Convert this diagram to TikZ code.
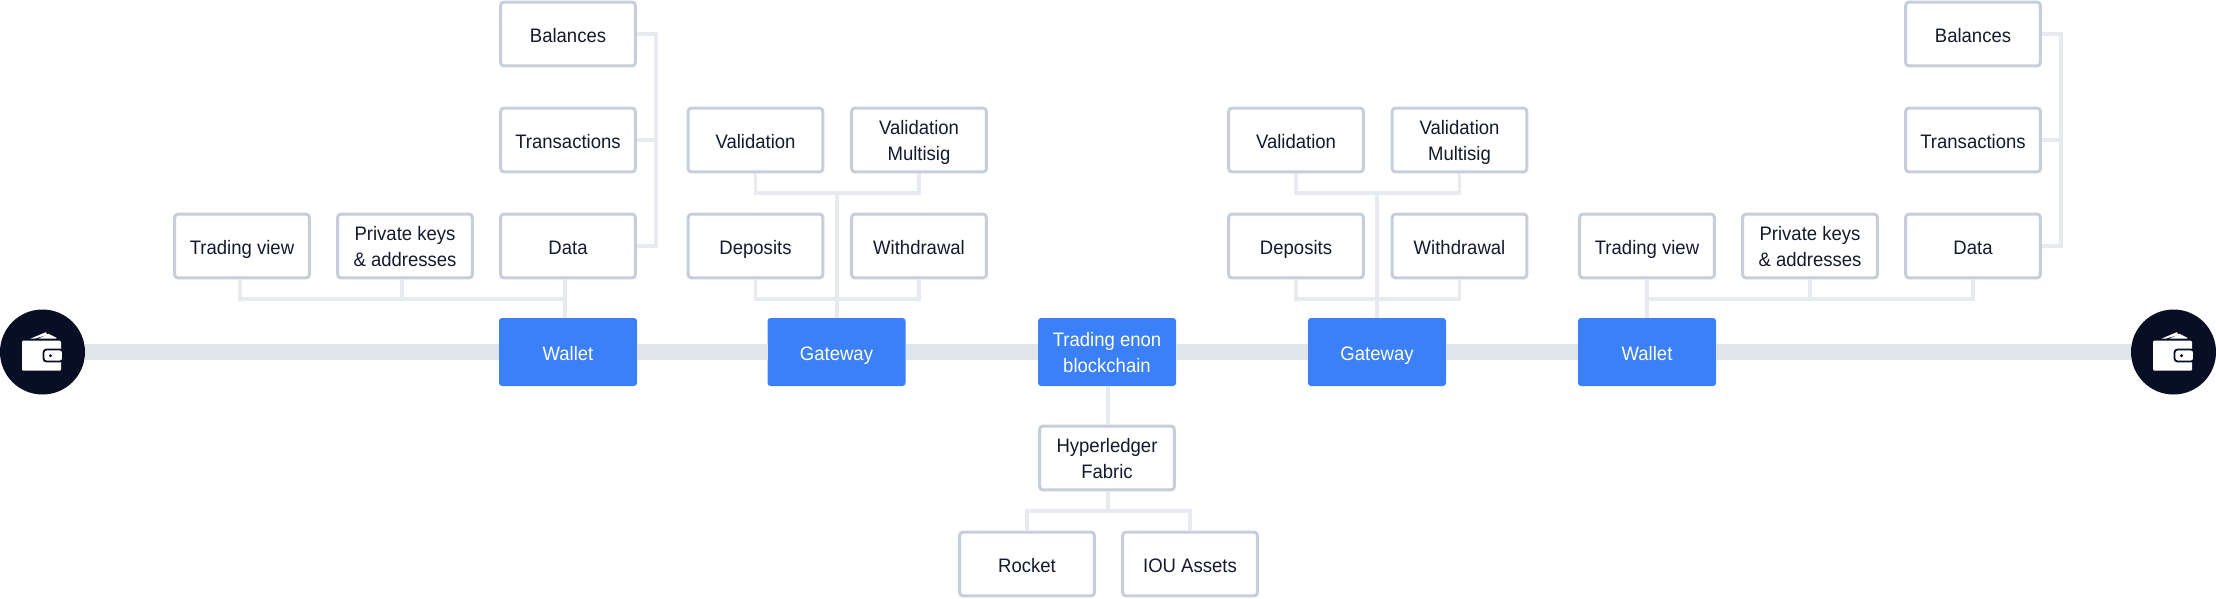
\documentclass[tikz,border=0pt]{standalone}
\usepackage{fontspec}
\setmainfont[FakeStretch=0.95]{Liberation Sans}
\definecolor{boxline}{HTML}{C4CFDA}
\definecolor{linkc}{HTML}{E7EBF0}
\definecolor{railc}{HTML}{E0E5E9}
\definecolor{bluec}{HTML}{3B80F7}
\definecolor{darkc}{HTML}{080E24}
\definecolor{inkc}{HTML}{131A2E}
\tikzset{
  x=1pt,y=-1pt,
  txt/.style={font=\fontsize{19.5}{26}\selectfont,inner sep=0pt,align=center,text height=17pt,text depth=0pt},
  two/.style={text height=40pt,text depth=0pt},
  boxn/.style={txt,draw=boxline,line width=3pt,fill=white,text=inkc,minimum width=134.6pt,minimum height=63.6pt,rounded corners=3pt},
  bluen/.style={txt,fill=bluec,text=white,minimum width=138pt,minimum height=68pt,rounded corners=3pt,outer sep=0pt},
  rail/.style={draw=railc,line width=16pt},
  link/.style={draw=linkc,line width=3.6pt},
  coin/.style={circle,fill=darkc,minimum size=85pt,inner sep=0pt,outer sep=0pt},
}
\newcommand{\walleticon}[1]{%
  \begin{scope}[shift={(#1)}]
    \fill[white,rounded corners=1.2pt] (-20.5,-11.3) rectangle (18.5,18.7);
    \fill[white] (-12.2,-13.3) -- (3.3,-19.8) -- (5,-17.2) -- (-8,-13.3) -- cycle;
    \fill[white] (-4,-13.3) -- (6,-18.2) -- (14.3,-14) -- (13,-13.3) -- cycle;
    \draw[darkc,fill=white,line width=1.8pt,rounded corners=3pt] (1,-2.5) rectangle (20.5,9.5);
    \fill[darkc] (8,3.7) circle (1.7);
  \end{scope}}
\begin{document}
\begin{tikzpicture}
\useasboundingbox (0,0) rectangle (2216,598);
% end points
\node[coin] (cL) at (42.5,352) {};
\node[coin] (cR) at (2173.5,352) {};
% main row
\node[bluen] (wL) at (568,352) {Wallet};
\node[bluen] (gL) at (836.5,352) {Gateway};
\node[bluen,two] (te) at (1107,352) {Trading enon\\blockchain};
\node[bluen] (gR) at (1377,352) {Gateway};
\node[bluen] (wR) at (1647,352) {Wallet};
% left wallet
\node[boxn] (tvL) at (242,246) {Trading view};
\node[boxn,two] (pkL) at (405,246) {Private keys\\\& addresses};
\node[boxn] (daL) at (568,246) {Data};
\node[boxn] (trL) at (568,140) {Transactions};
\node[boxn] (baL) at (568,34) {Balances};
% left gateway
\node[boxn] (vaL) at (755.5,140) {Validation};
\node[boxn,two] (vmL) at (919,140) {Validation\\Multisig};
\node[boxn] (deL) at (755.5,246) {Deposits};
\node[boxn] (wdL) at (919,246) {Withdrawal};
% right gateway
\node[boxn] (vaR) at (1296,140) {Validation};
\node[boxn,two] (vmR) at (1459.5,140) {Validation\\Multisig};
\node[boxn] (deR) at (1296,246) {Deposits};
\node[boxn] (wdR) at (1459.5,246) {Withdrawal};
% right wallet
\node[boxn] (tvR) at (1647,246) {Trading view};
\node[boxn,two] (pkR) at (1810,246) {Private keys\\\& addresses};
\node[boxn] (daR) at (1973,246) {Data};
\node[boxn] (trR) at (1973,140) {Transactions};
\node[boxn] (baR) at (1973,34) {Balances};
% centre
\node[boxn,two] (hy) at (1107,458) {Hyperledger\\Fabric};
\node[boxn] (ro) at (1027,564) {Rocket};
\node[boxn] (io) at (1190,564) {IOU Assets};
% helper points
\coordinate (busW) at (0,299);
\coordinate (sideL) at (656,0);
\coordinate (sideR) at (2061,0);
\coordinate (dropTv) at (240,0);
\coordinate (dropPk) at (402,0);
\coordinate (trunkWL) at (565,0);
\coordinate (trunkGL) at (837,0);
\coordinate (busGu) at (0,193);
\coordinate (busC) at (0,511);
\coordinate (trunkC) at (1108,0);
% rail
\path[rail] (cL) -- (wL) (wL) -- (gL) (gL) -- (te) (te) -- (gR) (gR) -- (wR) (wR) -- (cR);
\walleticon{cL}
\walleticon{cR}
% left wallet links
\path[link] (dropTv |- tvL.south) -- (dropTv |- busW) -- (trunkWL |- busW);
\path[link] (dropPk |- pkL.south) -- (dropPk |- busW);
\path[link] (trunkWL |- daL.south) -- (trunkWL |- wL.north);
\path[link] (baL.east) -- (sideL |- baL.east) -- (sideL |- daL.east) -- (daL.east);
\path[link] (trL.east) -- (sideL |- trL.east);
% left gateway links
\path[link] (vaL.south) -- (vaL.south |- busGu) -- (vmL.south |- busGu) -- (vmL.south);
\path[link] (deL.south) -- (deL.south |- busW) -- (wdL.south |- busW) -- (wdL.south);
\path[link] (trunkGL |- busGu) -- (trunkGL |- gL.north);
% right gateway links
\path[link] (vaR.south) -- (vaR.south |- busGu) -- (vmR.south |- busGu) -- (vmR.south);
\path[link] (deR.south) -- (deR.south |- busW) -- (wdR.south |- busW) -- (wdR.south);
\path[link] (gR.north |- busGu) -- (gR.north);
% right wallet links
\path[link] (tvR.south) -- (wR.north);
\path[link] (tvR.south |- busW) -- (daR.south |- busW) -- (daR.south);
\path[link] (pkR.south) -- (pkR.south |- busW);
\path[link] (baR.east) -- (sideR |- baR.east) -- (sideR |- daR.east) -- (daR.east);
\path[link] (trR.east) -- (sideR |- trR.east);
% centre links
\path[link] (trunkC |- te.south) -- (trunkC |- hy.north);
\path[link] (trunkC |- hy.south) -- (trunkC |- busC);
\path[link] (ro.north) -- (ro.north |- busC) -- (io.north |- busC) -- (io.north);
\end{tikzpicture}
\end{document}
